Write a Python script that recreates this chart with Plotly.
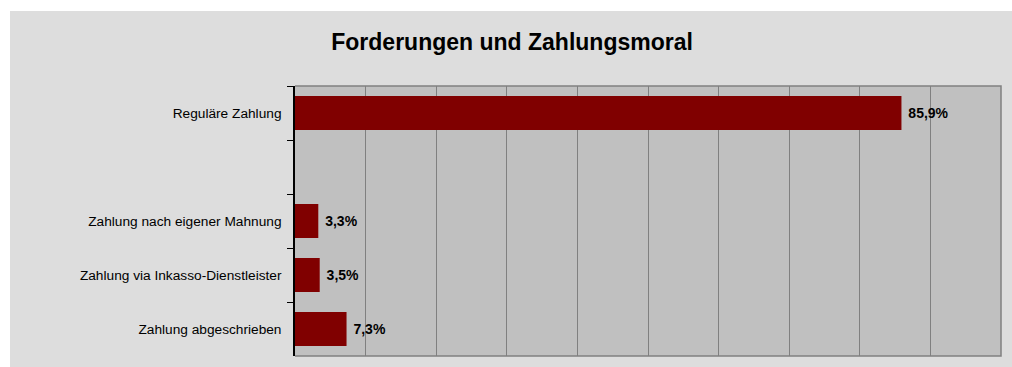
import plotly.graph_objects as go

# Kategorien (leere Zeile als Abstand nach "Reguläre Zahlung")
categories = ["Reguläre Zahlung", " ", "Zahlung nach eigener Mahnung",
              "Zahlung via Inkasso-Dienstleister", "Zahlung abgeschrieben"]
values = [85.9, None, 3.3, 3.5, 7.3]

FONT = "Liberation Sans, Arial, sans-serif"

fig = go.Figure(
    go.Bar(
        x=values,
        y=categories,
        orientation="h",
        marker=dict(color="#800000", line=dict(width=0)),
        texttemplate=" %{x:.1f}%",
        textposition="outside",
        textfont=dict(family=FONT, size=14, color="#000000", weight="bold"),
        cliponaxis=False,
        hoverinfo="skip",
    )
)

fig.update_layout(
    width=1012,
    height=367,
    margin=dict(l=295, r=11, t=86, b=11),
    paper_bgcolor="#ffffff",
    plot_bgcolor="#c0c0c0",
    separators=",.",
    bargap=0.37,
    showlegend=False,
    font=dict(family=FONT, size=13.7, color="#000000"),
    title=dict(
        text="<b>Forderungen und Zahlungsmoral</b>",
        x=0.506, xref="container", xanchor="center",
        y=1 - 42 / 367, yref="container", yanchor="middle",
        font=dict(family=FONT, size=23, color="#000000"),
    ),
    xaxis=dict(
        range=[0, 100],
        dtick=10,
        showgrid=True,
        gridcolor="#808080",
        gridwidth=1,
        showticklabels=False,
        ticks="",
        zeroline=False,
        showline=False,
        fixedrange=True,
    ),
    yaxis=dict(
        type="category",
        autorange="reversed",
        tickson="boundaries",
        ticks="outside",
        ticklen=6,
        tickcolor="#000000",
        ticklabelstandoff=9,
        showline=True,
        linecolor="#000000",
        linewidth=1.5,
        showgrid=False,
        zeroline=False,
        fixedrange=True,
    ),
    shapes=[
        # grauer Diagrammhintergrund
        dict(type="rect", xref="paper", yref="paper",
             x0=(10 - 295) / 706, x1=1.1, y0=-0.2, y1=1 + (86 - 11) / 270,
             fillcolor="#dddddd", line=dict(width=0), layer="below"),
        # Zeichenfläche
        dict(type="rect", xref="paper", yref="paper",
             x0=0, x1=1, y0=0, y1=1,
             fillcolor="#c0c0c0", line=dict(width=0), layer="below"),
        # Rahmen oben, rechts und unten
        dict(type="path", xref="paper", yref="paper",
             path="M 0,0 L 1,0 L 1,1 L 0,1",
             fillcolor="rgba(0,0,0,0)", line=dict(color="#808080", width=1.5),
             layer="below"),
    ],
)

fig.write_html("out.html")
